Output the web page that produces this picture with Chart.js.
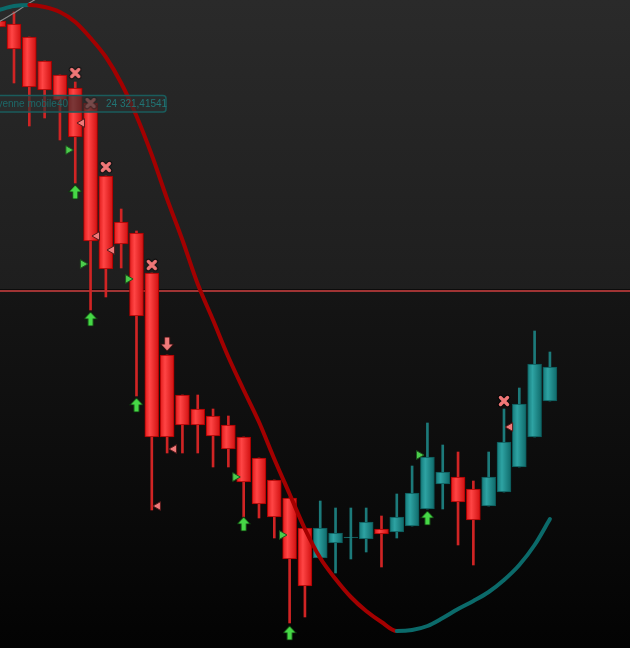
<!DOCTYPE html>
<html>
<head>
<meta charset="utf-8">
<script src="https://cdn.jsdelivr.net/npm/chart.js@4.4.1/dist/chart.umd.min.js"></script>
<style>
  html, body { margin: 0; padding: 0; background: #111; overflow: hidden; }
  #chart { display: block; }
</style>
</head>
<body>
<canvas id="chart" width="630" height="648"></canvas>
<script>
// candles, index 0 is cut by the left edge
var opens  = [24579,24576,24563,24539,24525,24512,24497,24424,24378,24367,24327,24245,24205,24191,24184,24175,24163,24142,24120,24102,24072,24042,24057,24062,24061,24071,24068,24074,24091,24116,24123,24111,24094,24108,24133,24163,24199];
var highs  = [24581,24588,24563,24539,24525,24518,24497,24424,24391,24369,24327,24245,24205,24205,24191,24184,24163,24142,24120,24102,24072,24099,24092,24092,24092,24084,24106,24134,24177,24155,24148,24119,24148,24191,24212,24269,24248];
var lows   = [24570,24517,24474,24482,24460,24417,24290,24303,24332,24204,24090,24147,24147,24147,24133,24133,24083,24082,24062,23977,23983,24042,24027,24041,24048,24033,24062,24074,24091,24091,24055,24035,24094,24108,24133,24163,24199];
var closes = [24573,24551,24513,24510,24500,24463,24359,24331,24356,24284,24163,24163,24175,24175,24164,24151,24118,24096,24083,24041,24014,24072,24067,24063,24078,24066,24083,24107,24143,24128,24098,24080,24123,24158,24196,24236,24233];

// Moyenne mobile 40
var movingAvg = [24590,24594,24595,24593,24588,24578,24562,24543,24517,24484,24445,24401,24360,24316,24280,24243,24210,24178,24141,24106,24071,24042,24021,24003,23989,23978,23969,23970,23974,23982,23991,23999,24008,24020,24035,24055,24081];
var grayLine = [24578,24587,24597,24606];

var levelPrice = 24309;
var labelName = 'Moyenne mobile40';
var labelValue = '24 321,41541';

// signals (candle index, price)
var crossIdx = [5, 6, 7, 10, 33];
var crossPrice = [24527, 24497, 24433, 24335, 24199];
var upIdx = [5, 6, 9, 16, 19, 28];
var upPrice = [24408, 24281, 24195, 24076, 23967, 24082];
var downIdx = [11];
var downPrice = [24256];
var rightIdx = [4.55, 5.5, 8.45, 15.45, 18.5, 27.45];
var rightPrice = [24450, 24336, 24321, 24123, 24065, 24145];
var leftIdx = [5.44, 6.42, 7.4, 10.4, 11.45, 33.4];
var leftPrice = [24477, 24364, 24350, 24094, 24151, 24173];

function pts(xs, ys) {
    var out = [];
    for (var i = 0; i < xs.length; i++) out.push({x: xs[i], y: ys[i]});
    return out;
}

function makeArrow(fill, edge, down) {
    var c = document.createElement('canvas');
    c.width = 14; c.height = 16;
    var g = c.getContext('2d');
    g.translate(7, 8);
    if (down) g.rotate(Math.PI);
    g.beginPath();
    g.moveTo(0, -6.5); g.lineTo(5.5, -0.5); g.lineTo(2.2, -0.5); g.lineTo(2.2, 6.5);
    g.lineTo(-2.2, 6.5); g.lineTo(-2.2, -0.5); g.lineTo(-5.5, -0.5); g.closePath();
    g.lineWidth = 1.6; g.strokeStyle = edge; g.stroke();
    g.fillStyle = fill; g.fill();
    return c;
}

function makeCross() {
    var c = document.createElement('canvas');
    c.width = 14; c.height = 14;
    var g = c.getContext('2d');
    g.lineCap = 'round';
    [['rgba(0,0,0,0.55)', 5.5], ['#ef7777', 3.4]].forEach(function (s) {
        g.strokeStyle = s[0]; g.lineWidth = s[1];
        g.beginPath();
        g.moveTo(3.5, 3.5); g.lineTo(10.5, 10.5);
        g.moveTo(10.5, 3.5); g.lineTo(3.5, 10.5);
        g.stroke();
    });
    return c;
}

var wickData = [], bodyData = [], maData = [], grayData = [];
for (var i = 0; i < opens.length; i++) {
    wickData.push({x: i, y: [lows[i], highs[i]]});
    bodyData.push({x: i, y: [opens[i], closes[i]]});
    maData.push({x: i, y: movingAvg[i]});
}
for (var j = 0; j < grayLine.length; j++) grayData.push({x: j, y: grayLine[j]});

function isUp(i) { return closes[i] >= opens[i]; }

function bodyFill(ctx) {
    var chart = ctx.chart;
    var i = ctx.dataIndex;
    if (!chart.chartArea) return isUp(i) ? '#1f9494' : '#f23030';
    var xc = chart.scales.x.getPixelForValue(i);
    var g = chart.ctx.createLinearGradient(xc - 7, 0, xc + 7, 0);
    if (isUp(i)) {
        g.addColorStop(0, '#157a7a');
        g.addColorStop(0.35, '#2ea3a3');
        g.addColorStop(1, '#0f6a6a');
    } else {
        g.addColorStop(0, '#e01a1a');
        g.addColorStop(0.35, '#ff4545');
        g.addColorStop(1, '#d01010');
    }
    return g;
}

var backdrop = {
    id: 'backdrop',
    beforeDraw: function (chart) {
        var c = chart.ctx, w = chart.width, h = chart.height;
        var ly = chart.scales.y.getPixelForValue(levelPrice);
        var g1 = c.createLinearGradient(0, 0, 0, ly);
        g1.addColorStop(0, '#2a2a2a');
        g1.addColorStop(1, '#1e1e1e');
        var g2 = c.createLinearGradient(0, ly, 0, h);
        g2.addColorStop(0, '#151515');
        g2.addColorStop(1, '#030303');
        c.save();
        c.fillStyle = g1; c.fillRect(0, 0, w, ly);
        c.fillStyle = g2; c.fillRect(0, ly, w, h - ly);
        c.restore();
    },
    beforeDatasetsDraw: function (chart) {
        var c = chart.ctx, w = chart.width;
        var ly = Math.round(chart.scales.y.getPixelForValue(levelPrice));
        c.save();
        c.fillStyle = 'rgba(0,0,0,0.6)';
        c.fillRect(0, ly - 2, w, 1);
        c.fillStyle = '#a03434';
        c.fillRect(0, ly - 1, w, 2);
        c.restore();
    },
    afterDraw: function (chart) {
        var c = chart.ctx;
        c.save();
        c.beginPath();
        c.roundRect(-6, 95.5, 172, 16.5, 3);
        c.fillStyle = 'rgba(44,46,46,0.62)';
        c.fill();
        c.lineWidth = 1.5;
        c.strokeStyle = '#1a5c5c';
        c.stroke();
        c.font = '10px "Liberation Sans", Arial, sans-serif';
        c.textBaseline = 'middle';
        c.fillStyle = '#1d6868';
        c.textAlign = 'right';
        c.fillText(labelName, 68, 104);
        c.fillStyle = '#217575';
        c.textAlign = 'left';
        c.fillText(labelValue, 106, 104);
        c.restore();
    }
};

var config = {
    type: 'bar',
    data: {
        datasets: [
            {
                type: 'line', data: pts(crossIdx, crossPrice), showLine: false,
                pointStyle: makeCross(), pointRadius: 7, order: 0
            },
            {
                type: 'line', data: pts(upIdx, upPrice), showLine: false,
                pointStyle: makeArrow('#46d846', '#0e3a0e', false), pointRadius: 7, order: 0
            },
            {
                type: 'line', data: pts(downIdx, downPrice), showLine: false,
                pointStyle: makeArrow('#f07a7a', '#3a0e0e', true), pointRadius: 7, order: 0
            },
            {
                type: 'line', data: pts(rightIdx, rightPrice), showLine: false,
                pointStyle: 'triangle', rotation: 90, pointRadius: 5,
                backgroundColor: '#4ccc4c', borderColor: '#1d5a1d', borderWidth: 1, order: 0
            },
            {
                type: 'line', data: pts(leftIdx, leftPrice), showLine: false,
                pointStyle: 'triangle', rotation: -90, pointRadius: 5,
                backgroundColor: '#f07a7a', borderColor: '#5a1d1d', borderWidth: 1, order: 0
            },
            {
                type: 'line', data: maData, pointRadius: 0, borderWidth: 4,
                cubicInterpolationMode: 'monotone', borderCapStyle: 'round',
                borderColor: '#a00000',
                segment: {
                    borderColor: function (ctx) {
                        return ctx.p1.parsed.y > ctx.p0.parsed.y ? '#0b6a6a' : '#a30000';
                    }
                },
                order: 1
            },
            {
                type: 'line', data: grayData, pointRadius: 0, borderWidth: 1.2,
                borderColor: '#8a8a8a', tension: 0.3, order: 1
            },
            {
                data: bodyData, barThickness: 14, grouped: false,
                backgroundColor: bodyFill,
                borderColor: function (ctx) { return isUp(ctx.dataIndex) ? '#0c5757' : '#a80000'; },
                borderWidth: 1, borderSkipped: false, order: 2
            },
            {
                data: wickData, barThickness: 2, grouped: false,
                backgroundColor: function (ctx) { return isUp(ctx.dataIndex) ? '#1c7a7a' : '#d02424'; },
                borderWidth: 0, order: 3
            }
        ]
    },
    options: {
        responsive: false,
        animation: false,
        layout: { padding: 0, autoPadding: false },
        plugins: { legend: { display: false }, tooltip: { enabled: false } },
        scales: {
            x: { type: 'linear', min: 0.086, max: 41.23, offset: false, display: false },
            y: { min: 23952, max: 24600, display: false }
        }
    },
    plugins: [backdrop]
};

var ctx = document.getElementById('chart').getContext('2d');
window.myChart = new Chart(ctx, config);
</script>
</body>
</html>
